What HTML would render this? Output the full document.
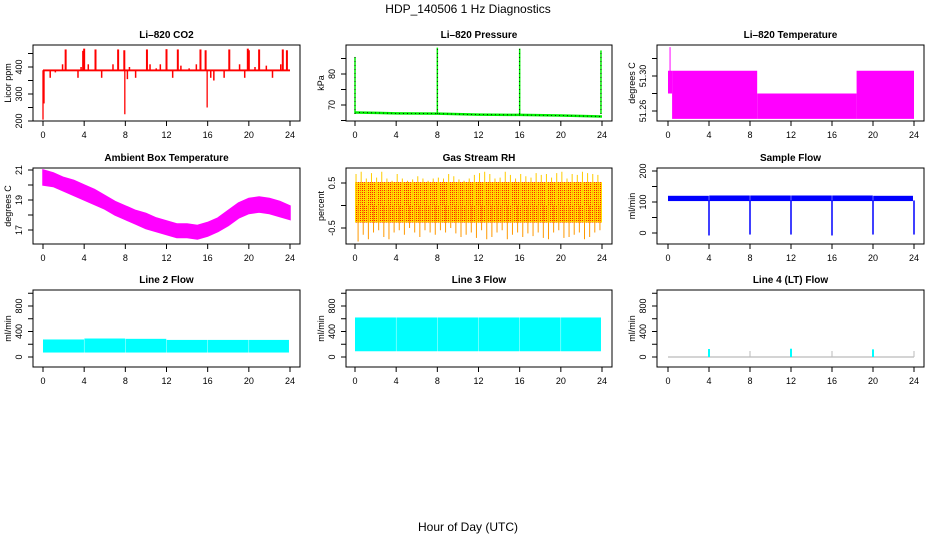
<!DOCTYPE html>
<html><head><meta charset="utf-8"><style>
body{margin:0;background:#fff}
svg{display:block;font-family:"Liberation Sans",sans-serif}
</style></head><body>
<svg id="c" width="936" height="540" viewBox="0 0 936 540">
<defs><pattern id="rhp" width="2" height="2" patternUnits="userSpaceOnUse"><rect width="2" height="2" fill="#ffdd00"/><rect width="1" height="1" fill="#ff2200"/></pattern></defs>
<text x="468" y="13" text-anchor="middle" font-size="12">HDP_140506  1 Hz Diagnostics</text>
<text x="468" y="531" text-anchor="middle" font-size="12">Hour of Day (UTC)</text>
</svg>
<script>
// ---- data ----
const xTicks=[0,4,8,12,16,20,24];
const co2BandLow=[384], co2BandHigh=[391];
const co2UpHours=[2.2,3.9,4.0,5.1,7.3,7.9,10.1,12.0,13.1,15.3,15.8,18.1,19.9,20.0,21.0,23.3,23.7];
const co2UpValues=[465,460,468,465,465,462,465,466,465,465,462,465,468,462,465,465,462];
const co2SmallHours=[0.7,1.2,1.9,3.4,3.7,4.4,5.7,6.8,8.2,8.4,9.0,10.4,11.0,11.4,12.6,13.4,14.2,14.9,16.3,16.6,17.6,19.1,19.6,20.6,21.7,22.3,23.1];
const co2SmallValues=[360,380,410,360,400,410,360,410,355,400,360,410,395,410,360,405,395,410,360,350,360,410,360,400,405,360,410];
const co2DownHours=[0.0,0.1,7.95,15.95];
const co2DownValues=[205,265,225,250];
const presBaseHours=[0,4,8,12,16,20,24];
const presBaseValues=[67.6,67.3,67.2,66.9,66.8,66.6,66.3];
const presSpikeHours=[0.0,8.0,16.0,23.9];
const presSpikeValues=[85.5,88.5,88.2,87.6];
const tempSegStart=[0.0,0.4,8.7,18.4];
const tempSegEnd=[0.4,8.7,18.4,24.0];
const tempSegTop=[51.306,51.306,51.280,51.306];
const tempSegBottom=[51.280,51.251,51.251,51.251];
const tempSpikeHours=[0.2], tempSpikeValues=[51.333];
const ambHours=[0,1,2,3,4,5,6,7,8,9,10,11,12,13,14,15,16,17,18,19,20,21,22,23,24];
const ambHigh=[21.0,20.8,20.5,20.3,20.0,19.7,19.3,18.9,18.6,18.3,18.1,17.8,17.6,17.4,17.4,17.3,17.5,17.8,18.3,18.8,19.1,19.2,19.1,18.9,18.6];
const ambLow=[20.0,19.9,19.6,19.3,19.0,18.7,18.4,18.0,17.7,17.4,17.1,16.9,16.7,16.5,16.5,16.4,16.6,16.9,17.3,17.8,18.1,18.2,18.1,17.9,17.7];
const rhHours=[0,0.5,1,1.5,2,2.5,3,3.5,4,4.5,5,5.5,6,6.5,7,7.5,8,8.5,9,9.5,10,10.5,11,11.5,12,12.5,13,13.5,14,14.5,15,15.5,16,16.5,17,17.5,18,18.5,19,19.5,20,20.5,21,21.5,22,22.5,23,23.5];
const rhHigh=[0.7,0.75,0.6,0.72,0.62,0.75,0.6,0.55,0.7,0.6,0.55,0.58,0.65,0.6,0.55,0.6,0.62,0.6,0.7,0.65,0.58,0.55,0.6,0.68,0.72,0.75,0.7,0.6,0.62,0.75,0.68,0.6,0.7,0.65,0.62,0.72,0.68,0.7,0.62,0.72,0.75,0.6,0.7,0.68,0.75,0.72,0.7,0.68];
const rhLow=[-0.8,-0.65,-0.75,-0.6,-0.55,-0.7,-0.75,-0.6,-0.55,-0.65,-0.5,-0.6,-0.7,-0.55,-0.6,-0.65,-0.55,-0.6,-0.5,-0.62,-0.7,-0.65,-0.6,-0.72,-0.55,-0.75,-0.7,-0.6,-0.55,-0.75,-0.65,-0.6,-0.7,-0.62,-0.68,-0.6,-0.72,-0.75,-0.6,-0.55,-0.72,-0.7,-0.65,-0.6,-0.75,-0.7,-0.6,-0.55];
const flowStart=[0.0,4.02,8.02,12.02,16.02,20.02];
const flowEnd=[3.98,7.98,11.98,15.98,19.98,23.9];
const sampleLow=[103,103,103,103,103,103], sampleHigh=[120,121,121,121,121,120];
const sampleDipHours=[4,8,12,16,20,24], sampleDipValues=[-8,-5,-5,-8,-5,-5];
const line2Low=[70,70,70,70,70,70], line2High=[275,290,285,268,268,268];
const line3Low=[90,90,90,90,90,90], line3High=[620,620,620,620,620,620];
const line4SpikeHours=[4,8,12,16,20,24], line4SpikeValues=[125,95,130,95,120,95];

// ---- helpers ----
const svg=document.getElementById('c');
const NS='http://www.w3.org/2000/svg';
function mk(tag,attrs,parent){const e=document.createElementNS(NS,tag);for(const k in attrs)e.setAttribute(k,attrs[k]);(parent||svg).appendChild(e);return e;}
function panel(cfg){
  const g=mk('g',{});
  
  
  const X=h=>cfg.xa+(h/24)*(cfg.xb-cfg.xa);
  const Y=v=>cfg.y0+(v-cfg.v0)*(cfg.y1-cfg.y0)/(cfg.v1-cfg.v0);
  const p={g,X,Y};
  cfg.draw(p);
  const box=mk('rect',{x:cfg.bx0,y:cfg.by0,width:cfg.bx1-cfg.bx0,height:cfg.by1-cfg.by0,fill:'none',stroke:'#000','stroke-width':1},g);
  
  
  const t=mk('text',{x:(cfg.bx0+cfg.bx1)/2,y:cfg.by0-7,'text-anchor':'middle','font-size':10,'font-weight':'bold'},g);
  t.textContent=cfg.title;
  
  
  const xa=mk('g',{},g);
  
  
  xTicks.forEach(h=>{const x=X(h);mk('line',{x1:x,x2:x,y1:cfg.by1,y2:cfg.by1+5,stroke:'#000'},xa);
    const l=mk('text',{x:x,y:cfg.by1+17,'text-anchor':'middle','font-size':9},xa);l.textContent=h;
    
    });
  const ya=mk('g',{},g);
  
  
  const ys=cfg.yTicks.map(Y);
  mk('line',{x1:cfg.bx0,x2:cfg.bx0,y1:Math.min(...ys),y2:Math.max(...ys),stroke:'#000'},ya);
  cfg.yTicks.forEach(v=>{const y=Y(v);mk('line',{x1:cfg.bx0-5,x2:cfg.bx0,y1:y,y2:y,stroke:'#000'},ya);});
  cfg.yLabels.forEach(v=>{const y=Y(v);const lx=cfg.bx0-11;
    const l=mk('text',{x:lx,y:y,'text-anchor':'middle','font-size':9,transform:`rotate(-90 ${lx} ${y})`},ya);l.textContent=cfg.fmt?cfg.fmt(v):v;
    
    });
  const yc=(cfg.by0+cfg.by1)/2, tx=cfg.bx0-22;
  const yt=mk('text',{x:tx,y:yc,'text-anchor':'middle','font-size':9,transform:`rotate(-90 ${tx} ${yc})`},g);
  yt.textContent=cfg.ylab;
  
  
  return p;
}
function vline(p,h,v1,v2,col,w){const e=mk('line',{x1:p.X(h),x2:p.X(h),y1:p.Y(v1),y2:p.Y(v2),stroke:col,'stroke-width':w||1},p.g);return e;}
function band(p,h0,h1,lo,hi,fill){const x0=p.X(h0),x1=p.X(h1),y0=p.Y(hi),y1=p.Y(lo);return mk('rect',{x:x0,y:Math.min(y0,y1),width:x1-x0,height:Math.abs(y1-y0),fill:fill},p.g);}
const C1={bx0:33,bx1:300,xa:43,xb:290}, C2={bx0:346,bx1:612,xa:355,xb:602}, C3={bx0:657,bx1:924,xa:668,xb:914};
const R1={by0:45,by1:121}, R2={by0:168,by1:244}, R3={by0:290,by1:367};

// CO2
panel(Object.assign({},C1,R1,{name:'panel-co2',title:'Li\u2013820 CO2',ylab:'Licor ppm',v0:200,y0:121,v1:400,y1:67,yTicks:[200,250,300,350,400,450],yLabels:[200,300,400],draw:p=>{
  co2BandLow.forEach((lo,i)=>{const r=band(p,0,24,lo,co2BandHigh[i],'#ff0000');});
  co2UpHours.forEach((h,i)=>{const l=vline(p,h,388,co2UpValues[i],'#ff0000',2);});
  co2SmallHours.forEach((h,i)=>{const l=vline(p,h,388,co2SmallValues[i],'#ff0000',1.5);});
  co2DownHours.forEach((h,i)=>{const l=vline(p,h,388,co2DownValues[i],'#ff0000',1.3);});
}}));
// Pressure
panel(Object.assign({},C2,R1,{name:'panel-pressure',title:'Li\u2013820 Pressure',ylab:'kPa',v0:70,y0:105,v1:80,y1:74,yTicks:[65,70,75,80,85],yLabels:[70,80],draw:p=>{
  const pts=presBaseHours.map((h,i)=>p.X(h)+','+p.Y(presBaseValues[i])).join(' ');
  const pl=mk('polyline',{points:pts,fill:'none',stroke:'#00ee00','stroke-width':2.5},p.g);
  
  const pd=mk('polyline',{points:pts,fill:'none',stroke:'#000','stroke-width':0.8,'stroke-dasharray':'1 3'},p.g);
  
  presSpikeHours.forEach((h,i)=>{const l=vline(p,h,presBaseValues[0]-0.5,presSpikeValues[i],'#00ee00',1.5);
    const d=vline(p,h,presBaseValues[0]-0.5,presSpikeValues[i],'#000',0.8);d.setAttribute('stroke-dasharray','1 3');});
}}));
// Temperature
panel(Object.assign({},C3,R1,{name:'panel-licor-temp',title:'Li\u2013820 Temperature',ylab:'degrees C',v0:51.30,y0:76,v1:51.26,y1:111,yTicks:[51.26,51.28,51.30,51.32],yLabels:[51.26,51.30],fmt:v=>v.toFixed(2),draw:p=>{
  tempSegStart.forEach((s,i)=>{const r=band(p,s,tempSegEnd[i],tempSegBottom[i],tempSegTop[i],'#ff00ff');});
  tempSpikeHours.forEach((h,i)=>{const l=vline(p,h,51.28,tempSpikeValues[i],'#ff00ff',1);});
}}));
// Ambient
panel(Object.assign({},C1,R2,{name:'panel-ambient-temp',title:'Ambient Box Temperature',ylab:'degrees C',v0:19,y0:200,v1:17,y1:230,yTicks:[17,18,19,20,21],yLabels:[17,19,21],draw:p=>{
  const top=ambHours.map((h,i)=>p.X(h)+','+p.Y(ambHigh[i]));
  const bot=ambHours.map((h,i)=>p.X(h)+','+p.Y(ambLow[i])).reverse();
  const pg=mk('polygon',{points:top.concat(bot).join(' '),fill:'#ff00ff',stroke:'#ff00ff','stroke-width':1.5},p.g);
  
}}));
// RH
panel(Object.assign({},C2,R2,{name:'panel-rh',title:'Gas Stream RH',ylab:'percent',v0:0.5,y0:183,v1:-0.5,y1:228,yTicks:[-0.5,0,0.5],yLabels:[-0.5,0.5],draw:p=>{
  const r=band(p,0,24,-0.38,0.52,'url(#rhp)');
  rhHours.forEach((h,i)=>{const a=vline(p,h+0.1,0,rhHigh[i],'#ffcc00',1);
    const b=vline(p,h+0.3,0,rhLow[i],'#ff9900',1);});
}}));
// Sample flow
panel(Object.assign({},C3,R2,{name:'panel-sample-flow',title:'Sample Flow',ylab:'ml/min',v0:0,y0:233,v1:100,y1:202,yTicks:[0,50,100,150,200],yLabels:[0,100,200],draw:p=>{
  flowStart.forEach((s,i)=>{const r=band(p,s,flowEnd[i],sampleLow[i],sampleHigh[i],'#0000ff');});
  sampleDipHours.forEach((h,i)=>{const l=vline(p,h,105,sampleDipValues[i],'#0000ff',1.5);});
}}));
// Line flows
const lineCfg={v0:0,y0:357,v1:400,y1:331.5,yTicks:[0,200,400,600,800,1000],yLabels:[0,400,800]};
panel(Object.assign({},C1,R3,lineCfg,{name:'panel-line2-flow',title:'Line 2 Flow',ylab:'ml/min',draw:p=>{
  flowStart.forEach((s,i)=>{const r=band(p,s,flowEnd[i],line2Low[i],line2High[i],'#00ffff');});
}}));
panel(Object.assign({},C2,R3,lineCfg,{name:'panel-line3-flow',title:'Line 3 Flow',ylab:'ml/min',draw:p=>{
  flowStart.forEach((s,i)=>{const r=band(p,s,flowEnd[i],line3Low[i],line3High[i],'#00ffff');});
}}));
panel(Object.assign({},C3,R3,lineCfg,{name:'panel-line4-flow',title:'Line 4 (LT) Flow',ylab:'ml/min',draw:p=>{
  const b=mk('line',{x1:p.X(0),x2:p.X(24),y1:p.Y(0),y2:p.Y(0),stroke:'#aaaaaa','stroke-width':1},p.g);
  
  line4SpikeHours.forEach((h,i)=>{const l=vline(p,h,0,line4SpikeValues[i],i%2===0?'#00ffff':'#bbbbbb',i%2===0?2:1);});
}}));
</script>
</body></html>
